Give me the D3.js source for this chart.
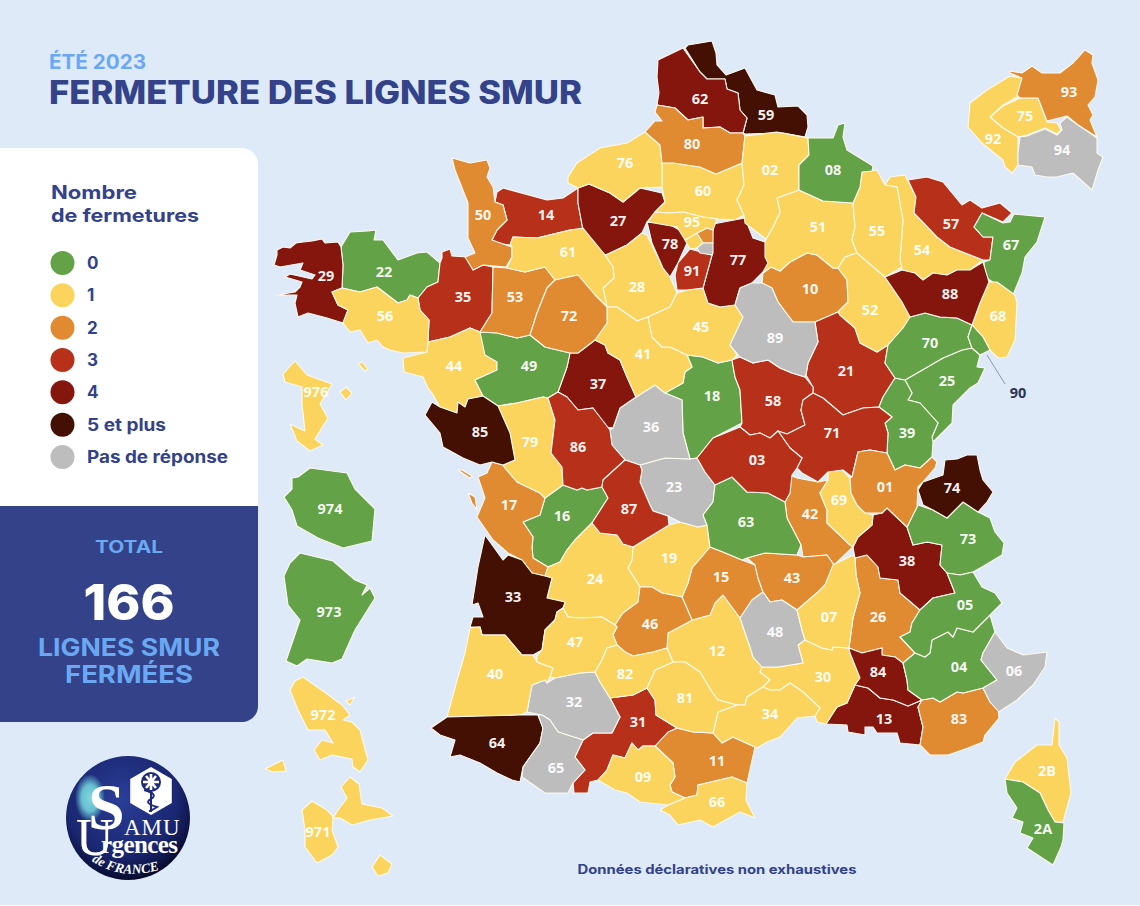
<!DOCTYPE html>
<html>
<head>
<meta charset="utf-8">
<script src="https://cdn.jsdelivr.net/npm/d3@7"></script>
<style>
  html, body { margin: 0; padding: 0; background: #fff; }
  svg { display: block; }
</style>
</head>
<body>
<svg id="chart" width="1140" height="906"></svg>
<script>
// values: closures per departement (null = no answer)
const zeroClosure = ['08','22','67','70','25','90','39','49','18','16','63','73','05','04','2A','974','973'];
const oneClosure = ['76','60','02','51','55','54','68','52','61','28','45','41','56','44','79','24','19','69','07','47','82','12','81','34','30','09','66','40','2B','75','92','95','976','972','971'];
const twoClosures = ['80','50','10','53','72','17','15','43','42','01','26','46','11','83','93'];
const threeClosures = ['14','57','35','21','58','71','03','86','87','31','91'];
const fourClosures = ['62','27','78','77','29','88','37','38','84','13'];
const fivePlusClosures = ['59','85','33','64','74'];
const noAnswer = ['89','36','23','48','32','65','06','94'];

const legendLabels = ['0','1','2','3','4','5 et plus','Pas de réponse'];
const legendColors = ['#64a247','#fad45d','#e08a31','#b7301a','#85160d','#431003','#bdbdbd'];
const totalClosed = 166;

// traced outlines, in picture units, one string per ring
const outlines = {
  '62':['658,60 683,48 700,72 707,79 725,79 727,89 738,93 740,110 747,118 743,133 730,133 720,127 703,128 703,117 688,120 675,108 657,105 659,93 657,77'],
  '59':['685,48 688,45 712,41 716,53 717,65 726,75 745,68 757,90 775,95 778,107 798,106 807,115 808,127 805,137 783,133 745,134 743,133 747,118 740,110 738,93 727,89 725,79 707,79 700,72'],
  '80':['657,105 675,108 688,120 703,117 703,128 720,127 730,133 743,133 745,136 742,163 716,174 700,167 673,163 662,163 660,145 645,132 655,121 662,121 655,112'],
  '76':['645,132 660,145 662,163 662,187 640,188 623,202 610,193 589,184 578,188 568,183 568,177 577,163 600,148 627,143'],
  '60':['662,163 673,163 700,167 716,174 742,163 744,185 737,200 744,215 735,220 717,219 703,217 683,212 668,213 655,212 665,202 662,187'],
  '02':['745,136 777,132 808,138 809,155 799,165 799,190 777,198 780,212 773,227 766,239 745,223 744,215 737,200 744,185 742,163'],
  '08':['808,138 833,138 838,125 845,123 843,137 847,150 860,158 873,166 872,171 862,172 860,187 853,203 823,201 799,190 799,165 809,155'],
  '51':['777,198 799,190 823,201 853,203 855,227 852,240 857,253 845,257 838,268 833,268 817,255 807,253 790,262 780,271 771,267 763,273 763,247 766,239 773,227 780,212'],
  '10':['763,273 771,267 780,271 790,262 807,253 817,255 833,268 838,268 847,280 848,302 838,312 815,322 793,322 778,302 772,288 762,283'],
  '52':['838,268 845,257 857,253 885,277 902,302 913,320 903,328 888,345 877,352 860,343 855,328 840,315 838,312 848,302 847,280'],
  '55':['862,172 877,170 885,185 897,187 903,220 900,260 902,267 885,277 857,253 852,240 855,227 853,203 860,187'],
  '54':['885,185 890,177 905,175 916,197 914,213 937,237 950,247 983,260 970,270 957,270 947,275 933,273 923,280 915,273 902,270 900,260 903,220 897,187'],
  '57':['908,180 927,177 943,182 962,205 970,200 982,208 1000,203 1012,213 1003,222 982,213 974,227 983,237 993,237 990,260 983,260 950,247 937,237 914,213 916,197'],
  '67':['1014,214 1045,217 1037,242 1025,257 1022,273 1013,295 985,277 984,262 990,260 993,237 983,237 974,227 982,213 1003,223 1010,222'],
  '88':['885,277 902,270 915,273 923,280 933,273 947,275 957,270 970,270 983,262 989,282 980,303 972,325 957,318 940,317 925,313 910,317 902,302'],
  '68':['989,282 997,282 1015,295 1017,303 1015,340 1007,357 998,358 990,350 983,337 972,325 980,303'],
  '90':['972,325 983,337 990,350 980,355 972,348 968,337'],
  '70':['910,317 925,313 940,317 957,318 972,325 968,337 972,348 962,350 943,358 905,380 895,378 885,363 888,345 903,328'],
  '25':['905,380 943,358 962,350 972,348 980,355 977,367 985,368 978,383 970,388 953,405 952,423 933,442 932,437 938,423 920,403 908,400 912,393'],
  '39':['895,378 905,380 912,393 908,400 920,403 938,423 932,437 933,442 932,457 920,468 905,465 895,470 887,453 888,433 885,423 892,417 879,407 883,397'],
  '21':['815,322 838,312 840,315 855,328 860,343 877,352 888,345 885,363 895,378 883,397 879,407 863,408 843,415 823,398 813,393 813,387 806,375 808,363 818,342'],
  '89':['740,288 752,283 762,283 772,288 778,302 793,322 815,322 818,342 808,363 806,375 805,377 792,373 780,368 768,360 753,363 740,357 730,345 743,317 735,305'],
  '58':['732,360 740,357 753,363 768,360 780,368 792,373 805,377 813,387 813,393 803,400 801,410 805,425 787,434 778,431 770,438 760,433 750,435 740,427 742,423 740,390 735,377'],
  '71':['813,393 823,398 843,415 863,408 879,407 892,417 885,423 888,433 887,453 870,450 858,452 852,477 843,470 828,472 818,482 802,473 797,468 802,458 790,448 778,431 787,434 805,425 801,410 803,400'],
  '03':['697,458 713,438 740,427 750,435 760,433 770,438 778,431 790,448 802,458 797,468 792,475 790,493 785,502 768,493 747,492 732,477 715,485 705,472'],
  '18':['687,355 703,357 718,363 732,360 735,377 740,390 742,423 713,438 697,458 690,459 683,433 682,400 665,393 683,383 685,372 692,367'],
  '45':['677,293 687,290 703,288 708,303 720,307 735,305 743,317 730,345 737,355 732,360 718,363 703,357 687,355 670,347 662,347 652,337 648,317 670,307'],
  '28':['605,255 608,254 627,245 642,233 647,235 663,268 670,277 677,293 670,307 648,317 637,321 617,307 607,307 603,288 614,278 613,267'],
  '78':['647,222 667,223 683,232 690,240 687,243 678,263 670,277 663,268 652,243'],
  '91':['690,249 712,255 703,288 687,290 677,290 675,275 678,263'],
  '77':['713,224 745,218 753,238 765,242 765,257 768,263 763,272 752,283 740,288 735,305 720,307 708,303 703,288 712,255'],
  '95':['655,212 668,213 683,212 703,217 717,219 713,230 707,228 697,233 685,240 677,227 648,222'],
  '27':['578,188 589,184 610,193 623,202 640,188 662,193 665,202 655,212 647,222 642,233 627,245 608,254 605,255 583,230 578,203'],
  '14':['497,192 503,188 547,200 563,198 578,188 578,203 583,230 570,230 537,238 513,237 510,245 495,243 492,240 497,230 507,220 503,205 495,202'],
  '50':['452,158 470,163 487,160 490,168 487,177 493,187 495,202 503,205 507,220 497,230 492,240 512,247 512,257 506,267 483,265 473,270 465,257 475,253 468,238 468,203 455,170'],
  '61':['510,245 513,237 537,238 570,230 583,228 605,255 613,267 614,278 603,288 607,307 595,295 578,275 555,280 545,267 525,272 507,268 512,257 512,247'],
  '53':['493,267 507,268 525,272 545,267 555,280 547,288 537,313 530,335 517,338 497,333 480,332 492,313'],
  '72':['555,280 578,275 595,295 607,307 607,323 595,340 578,353 570,353 545,347 530,335 537,313 547,288'],
  '41':['607,307 617,307 637,321 648,317 652,337 662,347 670,347 687,355 692,367 685,372 683,383 665,393 655,385 636,397 627,377 620,360 608,353 605,345 595,340 607,323'],
  '37':['570,353 578,353 595,340 605,345 608,353 620,360 627,377 636,397 620,408 613,428 605,427 593,408 578,410 567,397 558,392 567,367'],
  '49':['480,332 497,333 517,338 530,335 545,347 570,353 567,367 558,392 548,398 543,397 517,403 498,406 483,396 475,380 497,370 497,362 485,355'],
  '44':['480,332 487,352 497,362 497,370 475,380 483,396 468,399 465,407 458,402 457,413 440,407 432,393 428,388 423,377 404,372 403,358 427,352 428,342 450,337 470,328'],
  '56':['332,292 342,288 360,292 377,287 398,303 407,300 410,295 418,298 420,310 429,320 428,342 427,352 403,353 390,350 383,347 377,340 368,343 360,330 350,332 343,323 348,310 338,305','358,364 362,362 368,369 365,371'],
  '35':['442,258 442,252 450,249 452,256 467,257 473,270 483,265 493,267 492,313 480,332 470,328 450,337 428,342 429,320 420,310 418,298 427,287 438,282 440,263'],
  '22':['350,232 368,231 376,230 374,240 383,240 398,260 417,253 427,252 440,263 438,282 427,287 418,298 410,295 407,300 398,303 377,287 360,292 342,288 343,265 341,247'],
  '29':['277,250 283,247 290,248 296,243 303,242 312,241 322,239 325,243 338,242 341,247 343,265 342,288 332,292 338,305 348,310 343,323 327,318 308,313 298,317 295,303 297,295 277,295 295,292 300,287 302,282 285,277 290,274 312,279 315,275 300,270 303,263 280,267 274,265 277,255'],
  '85':['432,402 440,407 457,413 458,402 465,407 468,399 483,396 498,406 510,433 515,460 503,465 492,462 480,465 463,458 443,447 440,433 425,415'],
  '79':['498,406 517,403 543,397 548,398 555,420 551,453 562,467 563,485 545,498 540,493 517,482 505,468 503,465 515,460 510,433'],
  '86':['548,398 558,392 567,397 578,410 593,408 610,430 612,445 625,460 603,480 602,487 587,490 582,488 577,490 563,485 562,467 551,453 555,420'],
  '36':['636,397 655,385 665,393 682,400 683,433 690,459 665,458 640,465 625,460 612,445 610,430 613,428 620,408'],
  '23':['640,465 665,458 690,459 697,458 705,472 715,485 713,502 703,515 707,525 698,527 680,522 668,516 653,511 650,505 640,482 642,470'],
  '87':['625,460 640,465 642,470 640,482 650,505 653,511 668,516 669,525 633,547 623,544 617,535 600,533 592,523 608,498 602,487 603,480'],
  '16':['545,498 563,485 577,490 582,488 587,490 602,487 608,498 592,523 575,540 567,550 560,562 548,567 533,558 532,547 533,537 523,522 540,515'],
  '17':['492,462 503,465 505,468 517,482 540,493 545,498 540,515 523,522 533,537 532,547 533,558 548,567 545,576 532,573 522,560 508,553 493,540 477,517 485,498 478,477 487,473','458,470 462,470 472,476 470,478','468,493 475,497 477,510 472,503'],
  '33':['485,535 503,560 508,555 522,560 532,573 545,576 552,578 547,598 565,602 563,608 557,612 555,620 545,630 542,650 533,655 522,655 505,635 482,635 480,627 470,627 473,617 483,617 478,603 472,605 478,567'],
  '24':['548,567 560,562 567,550 575,540 592,523 600,533 617,535 623,544 633,547 632,560 628,568 640,587 638,602 623,613 615,625 602,617 580,618 568,617 563,608 565,602 547,598 552,578 545,576'],
  '19':['633,547 669,525 680,522 698,527 707,525 710,547 692,568 688,583 682,597 662,593 652,587 640,587 628,568 632,560'],
  '63':['715,485 732,477 747,492 768,493 785,502 787,518 801,545 797,555 765,553 747,558 742,560 723,552 710,547 707,525 703,515 713,502'],
  '42':['790,475 797,478 818,482 828,480 820,493 827,510 827,523 850,545 853,547 834,565 827,555 803,557 801,545 787,518 785,502 790,493'],
  '69':['828,472 842,470 850,478 851,493 857,505 865,513 873,515 872,525 858,537 853,547 850,545 827,523 827,510 820,493 828,480'],
  '01':['858,452 870,450 887,453 895,470 905,465 920,468 932,457 937,462 935,468 922,483 918,487 917,507 907,527 887,508 882,513 865,513 857,505 851,493 850,478 852,477'],
  '74':['945,460 957,459 967,455 977,455 980,470 983,480 993,492 987,502 978,512 963,502 947,518 933,510 923,505 918,490 923,482 943,475'],
  '73':['918,505 933,510 947,518 963,502 978,512 990,518 995,532 1004,543 1002,555 982,567 973,572 960,575 947,573 940,565 942,545 927,542 913,545 907,527 917,507'],
  '38':['887,508 907,527 913,545 927,542 942,545 940,565 947,573 955,593 933,598 920,610 900,593 898,580 880,578 878,567 867,555 855,558 853,547 858,537 872,525 873,515 882,513'],
  '26':['855,558 867,555 878,567 880,578 898,580 900,593 920,610 912,623 910,632 900,637 915,653 903,663 895,657 882,655 882,648 862,653 849,648 853,618 860,593 856,575'],
  '07':['853,555 855,558 856,575 860,593 853,618 849,648 833,647 832,650 822,648 805,640 802,630 797,610 818,592 825,585 833,565'],
  '43':['747,558 765,553 797,555 803,557 827,555 834,565 825,585 818,592 797,610 782,600 770,602 763,592 758,578 755,565'],
  '15':['710,547 723,552 742,560 755,565 758,578 763,592 752,600 740,618 723,595 715,603 710,615 692,620 682,597 688,583 692,568'],
  '46':['640,587 652,587 662,593 682,597 692,620 687,623 668,633 667,648 653,652 633,656 625,652 617,645 613,635 617,627 615,625 623,613 638,602'],
  '47':['537,656 542,650 545,630 555,620 557,612 563,608 568,617 580,618 602,617 615,625 617,627 613,635 617,645 607,648 602,660 595,672 580,673 555,678 550,677 553,668 537,662'],
  '40':['470,628 480,627 482,635 505,635 522,655 533,655 537,662 553,668 550,677 547,683 545,680 532,685 527,712 520,715 447,717 458,677 465,653'],
  '32':['532,685 545,680 547,683 555,678 580,673 595,672 600,682 610,698 620,717 612,733 593,733 583,740 558,732 550,720 542,715 527,712'],
  '64':['447,717 520,715 538,715 543,728 540,743 523,767 520,782 512,780 497,773 480,763 460,755 450,757 455,740 440,735 431,728'],
  '65':['538,715 542,715 550,720 558,732 583,740 575,757 585,770 573,783 568,793 545,793 522,777 523,767 540,743 543,728'],
  '31':['610,698 633,695 647,688 655,700 656,715 677,728 668,732 655,746 643,746 638,750 632,743 625,758 613,755 607,770 598,780 590,782 588,793 574,793 573,783 585,770 575,757 583,740 593,733 612,733 620,717'],
  '09':['598,780 607,770 613,755 625,758 632,743 638,750 643,746 655,746 673,763 675,777 670,785 672,792 685,798 668,805 640,802 627,793 615,790'],
  '82':['595,672 602,660 607,648 617,645 625,652 633,656 653,652 667,648 673,662 655,670 647,688 633,695 610,698 600,682'],
  '12':['667,648 668,633 687,623 692,620 710,615 715,603 723,595 740,618 750,647 753,657 762,667 760,672 770,680 763,687 747,697 745,705 737,705 718,700 712,692 700,672 685,662 673,662'],
  '81':['655,670 673,662 685,662 700,672 712,692 718,700 737,705 718,712 713,733 693,732 677,728 656,715 655,700 647,688'],
  '34':['718,712 737,705 745,705 747,697 763,687 770,690 780,690 790,683 803,692 820,708 815,716 797,718 780,737 767,742 757,748 755,747 733,737 722,743 713,733'],
  '11':['655,746 668,732 677,728 693,732 713,733 722,743 733,737 755,747 747,783 732,777 698,785 697,795 685,798 672,792 670,785 675,777 673,763'],
  '66':['660,810 668,805 685,798 697,795 698,785 732,777 747,783 746,800 755,818 740,812 720,823 713,827 700,820 678,825 670,815'],
  '30':['762,667 778,667 803,663 798,645 805,640 822,648 832,650 833,647 849,648 850,653 860,678 855,685 847,703 837,707 826,724 817,722 815,716 820,708 803,692 790,683 780,690 770,690 763,687 770,680 760,672'],
  '48':['763,592 770,602 782,600 797,610 802,630 805,640 798,645 803,663 778,667 762,667 753,657 750,647 740,618 752,600'],
  '84':['849,648 862,653 882,648 882,655 895,657 903,663 907,680 908,690 922,700 908,706 893,700 880,698 868,688 855,685 860,678 850,653'],
  '13':['855,685 868,688 880,698 893,700 908,706 922,700 918,707 923,727 920,745 900,743 897,733 877,733 873,727 865,727 865,735 848,732 847,725 826,724 837,707 847,703'],
  '83':['918,707 922,700 933,698 940,702 957,692 963,693 983,688 990,702 998,708 999,718 985,735 983,742 968,748 948,755 930,755 920,745 923,727'],
  '04':['903,663 915,653 925,657 930,653 932,640 948,632 953,637 957,628 973,632 985,620 990,615 995,632 983,653 981,660 997,680 983,688 963,693 957,692 940,702 933,698 922,700 908,690 907,680'],
  '05':['947,573 960,575 973,572 982,587 995,593 1002,603 990,615 985,620 973,632 957,628 953,637 948,632 932,640 930,653 925,657 915,653 900,637 910,632 912,623 920,610 933,598 955,593'],
  '06':['995,632 1007,648 1023,655 1047,652 1045,667 1033,685 1017,700 999,712 990,702 983,688 997,680 981,660 983,653'],
  '2B':['1055,718 1059,722 1059,745 1067,758 1071,793 1063,822 1055,822 1048,810 1040,793 1023,782 1005,779 1015,762 1037,745 1052,745'],
  '2A':['1005,779 1023,782 1040,793 1048,810 1055,822 1064,823 1063,840 1061,847 1053,865 1027,848 1033,838 1020,833 1023,822 1012,818 1017,808 1007,793'],
  '93':['1010,71 1022,73 1032,66 1042,73 1060,73 1073,63 1085,50 1093,55 1092,63 1098,80 1095,97 1088,105 1093,115 1090,120 1097,137 1078,125 1067,116 1047,121 1038,98 1020,98 1017,95 1022,78 1010,73','697,233 707,228 713,230 713,243 703,243'],
  '92':['1010,76 1022,78 1017,97 1003,105 990,117 1003,128 1018,137 1018,165 1012,173 1005,167 1003,160 993,152 982,143 968,127 970,103 987,90','685,240 697,233 703,243 697,248 690,249'],
  '75':['990,117 1003,106 1020,98 1038,98 1047,122 1057,123 1061,130 1057,134 1045,128 1027,135 1018,137 1003,128'],
  '94':['1020,137 1027,136 1045,129 1057,135 1062,130 1060,123 1067,117 1078,125 1097,138 1097,153 1103,157 1098,170 1092,190 1073,173 1057,177 1047,177 1035,175 1032,167 1018,165 1018,153','697,248 703,243 713,243 713,253 712,255 700,253'],
  '976':['283,374 295,361 307,375 332,384 320,404 328,418 315,439 323,445 310,451 297,441 290,424 305,431 302,404 302,387 285,382','340,392 346,387 352,393 346,400'],
  '974':['292,478 298,477 310,468 347,473 355,489 375,509 372,541 343,548 318,538 297,526 292,510 284,497 292,489'],
  '973':['300,553 333,561 355,580 367,585 362,595 370,588 375,598 355,630 342,659 332,663 307,659 297,666 286,661 300,620 288,605 284,576 290,563'],
  '972':['303,677 323,691 342,705 350,715 343,720 352,722 360,730 368,760 360,772 353,767 352,759 332,755 320,760 314,750 322,740 333,743 325,730 308,730 298,710 290,690 295,681','346,701 355,697 350,705','265,769 283,760 286,771 273,772'],
  '971':['350,777 359,784 362,804 382,808 393,816 370,820 352,825 340,818 333,818 338,810 347,798 341,787','302,810 312,801 327,810 332,815 333,820 332,830 338,847 332,855 317,863 305,847 305,830','380,855 392,864 388,873 378,876 372,867']
};

// where each number sits on the picture
const labelAnchors = {
  '62':[700,99],'59':[766,115],'80':[692,144],'76':[625,163],'02':[770,170],'08':[833,170],'60':[703,191],'51':[818,227],
  '55':[877,231],'57':[951,224],'67':[1011,245],'54':[922,250],'14':[546,215],'50':[483,215],'27':[618,221],'95':[692,222],
  '78':[670,244],'91':[692,271],'77':[738,260],'61':[568,252],'22':[384,272],'29':[326,276],'35':[463,297],'53':[515,297],
  '72':[569,316],'28':[637,287],'10':[810,289],'88':[950,294],'52':[870,310],'68':[998,316],'56':[385,316],'45':[701,327],
  '89':[775,338],'70':[930,343],'44':[454,366],'49':[529,366],'41':[643,354],'37':[598,384],'21':[846,371],'25':[947,381],
  '18':[712,396],'58':[773,401],'85':[480,432],'79':[530,442],'86':[578,447],'36':[651,427],'71':[832,433],'39':[907,433],
  '03':[757,460],'23':[674,487],'87':[629,509],'17':[509,505],'16':[562,516],'63':[746,522],'42':[810,514],'69':[839,500],
  '01':[885,487],'74':[952,488],'73':[968,539],'38':[907,561],'19':[669,558],'24':[595,579],'15':[721,577],'43':[792,578],
  '33':[513,597],'46':[650,624],'05':[965,605],'07':[829,617],'26':[878,617],'47':[575,642],'48':[775,632],'12':[717,651],
  '82':[625,674],'40':[495,674],'84':[878,672],'04':[959,667],'06':[1014,671],'30':[823,677],'81':[685,698],'32':[574,702],
  '13':[884,719],'83':[959,719],'34':[770,714],'31':[638,722],'64':[497,743],'11':[717,761],'65':[556,768],'09':[643,777],
  '66':[717,802],'2B':[1047,771],'2A':[1043,829],'75':[1025,116],'92':[993,139],'93':[1069,92],'94':[1062,150],
  '976':[316,392],'974':[330,509],'973':[329,612],'972':[323,715],'971':[318,832]
};

const NAVY = '#334289';
const SKY = '#6aa9f2';
const uiFont = 'Inter, "Open Sans", sans-serif';

const svg = d3.select('#chart');

svg.append('rect').attr('width', 1140).attr('height', 905).attr('fill', '#deeaf8');

// left panels
svg.append('path').attr('fill', '#fff')
  .attr('d', 'M0,148 H242 A16,16 0 0 1 258,164 V506 H0 Z');
svg.append('path').attr('fill', NAVY)
  .attr('d', 'M0,506 H258 V706 A16,16 0 0 1 242,722 H0 Z');

// the poster font is wider than anything installed, so widths are forced
const stretched = (sel, width) => sel.attr('textLength', width).attr('lengthAdjust', 'spacingAndGlyphs');

// title
stretched(svg.append('text').attr('x', 49).attr('y', 69)
  .attr('font-family', uiFont).attr('font-weight', 700).attr('font-size', 19.5)
  .attr('fill', SKY).text('ÉTÉ 2023'), 97);
stretched(svg.append('text').attr('x', 49).attr('y', 104)
  .attr('font-family', uiFont).attr('font-weight', 800).attr('font-size', 32)
  .attr('fill', NAVY).text('FERMETURE DES LIGNES SMUR'), 533);

// legend
const legendTitleText = (txt, y, width) => stretched(svg.append('text').attr('x', 51).attr('y', y)
  .attr('font-family', uiFont).attr('font-weight', 700).attr('font-size', 18.5)
  .attr('fill', NAVY).text(txt), width);
legendTitleText('Nombre', 199, 86);
legendTitleText('de fermetures', 222, 148);

const legendY = d3.scalePoint().domain(legendLabels).range([263, 457]);
const legendRows = svg.append('g').selectAll('g').data(legendLabels).join('g')
  .attr('transform', d => `translate(0,${legendY(d)})`);
legendRows.append('circle').attr('cx', 62.5).attr('r', 12)
  .attr('fill', (d, i) => legendColors[i]);
legendRows.append('text').attr('x', 87).attr('y', 6)
  .attr('font-family', uiFont).attr('font-weight', 700).attr('font-size', 17)
  .attr('fill', NAVY).text(d => d)
  .each(function(d) {
    if (d === '5 et plus') stretched(d3.select(this), 79);
    if (d === 'Pas de réponse') stretched(d3.select(this), 141);
  });

// total panel
const totalText = (txt, y, size, fill, weight, width) => stretched(svg.append('text')
  .attr('x', 129).attr('y', y).attr('text-anchor', 'middle')
  .attr('font-family', uiFont).attr('font-weight', weight).attr('font-size', size)
  .attr('fill', fill).text(txt), width);
totalText('TOTAL', 553, 17, SKY, 700, 68);
totalText(totalClosed, 620, 50, '#fff', 800, 91);
totalText('LIGNES SMUR', 656, 24, SKY, 700, 182);
totalText('FERMÉES', 683, 24, SKY, 700, 128);

// map
const buckets = [zeroClosure, oneClosure, twoClosures, threeClosures, fourClosures, fivePlusClosures, noAnswer];
const closuresByCode = new Map();
buckets.forEach((codes, i) => codes.forEach(c => closuresByCode.set(c, legendLabels[i])));
const color = d3.scaleOrdinal().domain(legendLabels).range(legendColors);

const parseRing = s => {
  const ring = s.split(' ').map(p => p.split(',').map(Number));
  ring.push(ring[0]);
  return ring;
};
const features = Object.keys(outlines).map(code => ({
  type: 'Feature',
  properties: { code },
  geometry: { type: 'MultiPolygon', coordinates: outlines[code].map(s => [parseRing(s)]) }
}));

const path = d3.geoPath(d3.geoIdentity());

svg.append('g').selectAll('path').data(features).join('path')
  .attr('d', path)
  .attr('fill', d => color(closuresByCode.get(d.properties.code)))
  .attr('stroke', '#fdfaf0').attr('stroke-width', 1.1).attr('stroke-linejoin', 'round');

svg.append('g').selectAll('text').data(Object.keys(labelAnchors)).join('text')
  .attr('x', d => labelAnchors[d][0]).attr('y', d => labelAnchors[d][1] + 5)
  .attr('text-anchor', 'middle')
  .attr('font-family', '"Open Sans", sans-serif').attr('font-weight', 700).attr('font-size', 14.5)
  .attr('fill', '#fff').attr('fill-opacity', 0.95).text(d => d);

// callout for 90
svg.append('line').attr('x1', 987).attr('y1', 355).attr('x2', 1005).attr('y2', 384)
  .attr('stroke', '#8d97a8').attr('stroke-width', 1);
svg.append('text').attr('x', 1018).attr('y', 398).attr('text-anchor', 'middle')
  .attr('font-family', '"Open Sans", sans-serif').attr('font-weight', 700).attr('font-size', 14.5)
  .attr('fill', '#2d3550').text('90');

stretched(svg.append('text').attr('x', 717).attr('y', 874).attr('text-anchor', 'middle')
  .attr('font-family', uiFont).attr('font-weight', 700).attr('font-size', 12.5)
  .attr('fill', NAVY).text('Données déclaratives non exhaustives'), 279);

// logo
const defs = svg.append('defs');
const logoFill = defs.append('radialGradient').attr('id', 'logoFill')
  .attr('cx', '45%').attr('cy', '35%').attr('r', '65%');
logoFill.append('stop').attr('offset', '0%').attr('stop-color', '#2a3f98');
logoFill.append('stop').attr('offset', '70%').attr('stop-color', '#1a2670');
logoFill.append('stop').attr('offset', '100%').attr('stop-color', '#070b2e');
const logoGlow = defs.append('radialGradient').attr('id', 'logoGlow');
logoGlow.append('stop').attr('offset', '0%').attr('stop-color', '#7fd6dc');
logoGlow.append('stop').attr('offset', '55%').attr('stop-color', '#67c0d2');
logoGlow.append('stop').attr('offset', '100%').attr('stop-color', '#67c0d2').attr('stop-opacity', 0);

const logo = svg.append('g');
logo.append('circle').attr('cx', 128).attr('cy', 818).attr('r', 62).attr('fill', 'url(#logoFill)');
logo.append('ellipse').attr('cx', 90).attr('cy', 798).attr('rx', 15).attr('ry', 24).attr('fill', 'url(#logoGlow)');

const hex = d3.range(6).map(i => {
  const a = Math.PI / 3 * i;
  return [151 + 24 * Math.sin(a), 791 - 24 * Math.cos(a)];
});
logo.append('path').attr('d', d3.line()(hex) + 'Z').attr('fill', '#fff');
logo.append('circle').attr('cx', 151).attr('cy', 782).attr('r', 10).attr('fill', '#1d2a78');
logo.append('path').attr('d', 'M151,774 V790 M143,782 H159 M146,776 L156,788 M156,776 L146,788')
  .attr('stroke', '#fff').attr('stroke-width', 2.6);
logo.append('path').attr('d', 'M151,790 V812').attr('stroke', '#1d2a78').attr('stroke-width', 2);
logo.append('path').attr('d', 'M144,790 Q159,794 151,799 Q143,803 157,807 Q151,811 149,811')
  .attr('fill', 'none').attr('stroke', '#1d2a78').attr('stroke-width', 2);

const serif = '"Liberation Serif", serif';
logo.append('text').attr('x', 88).attr('y', 829).attr('font-family', serif).attr('font-weight', 700)
  .attr('font-size', 66).attr('fill', '#fff').text('S');
logo.append('text').attr('x', 76).attr('y', 855).attr('font-family', serif).attr('font-size', 52)
  .attr('fill', '#fff').text('U');
logo.append('text').attr('x', 124).attr('y', 835).attr('font-family', serif).attr('font-size', 23)
  .attr('letter-spacing', 1).attr('fill', '#fff').text('AMU');
logo.append('text').attr('x', 101).attr('y', 853).attr('font-family', serif).attr('font-weight', 700)
  .attr('font-size', 25).attr('fill', '#fff').attr('textLength', 77).text('rgences');
defs.append('path').attr('id', 'logoArc').attr('d', 'M90,860 Q125,884 170,866');
logo.append('text').attr('font-family', serif).attr('font-style', 'italic').attr('font-weight', 700)
  .attr('font-size', 13.5).attr('fill', '#fff')
  .append('textPath').attr('href', '#logoArc').attr('startOffset', '2%').text('de FRANCE');
</script>
</body>
</html>
